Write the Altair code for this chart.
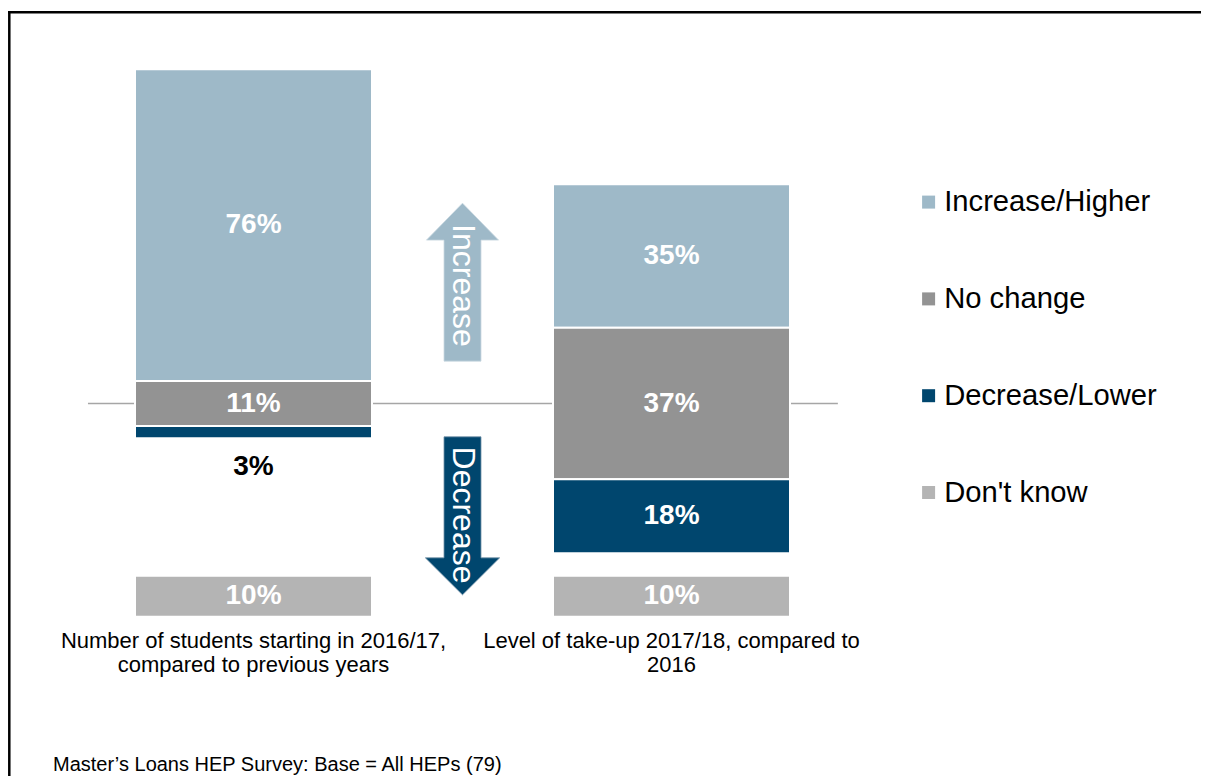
import altair as alt
import pandas as pd

# ---------------- data ----------------
questions = [
    "Number of students starting in 2016/17,\ncompared to previous years",
    "Level of take-up 2017/18, compared to\n2016",
]
categories = ["Increase/Higher", "No change", "Decrease/Lower", "Don't know"]
increase = [76, 35]
no_change = [11, 37]
decrease = [3, 18]
dont_know = [10, 10]
arrow_labels = ["Increase", "Decrease"]
footnote = "Master\u2019s Loans HEP Survey: Base = All HEPs (79)"

# ---------------- style / layout ----------------
colors = ["#9EB9C8", "#939393", "#00466E", "#B4B4B4"]
FONT = "Liberation Sans"
W, H = 1193, 768
Y0, K = 395.5, 4.1          # baseline pixel row, pixels per percentage point
X0, U = 245.5, 418          # first bar centre pixel, pixels per bar step
BAR_HALF = 0.2835
DK_TOP = -42                # where the separate "Don't know" bar starts
SMALL = 5
OUT_OFFSET = 7

xscale = alt.Scale(domain=[-X0 / U, (W - X0) / U], nice=False, zero=False)
yscale = alt.Scale(domain=[(Y0 - H) / K, Y0 / K], nice=False, zero=False)

rows = []
for i in range(len(questions)):
    nc = no_change[i]
    segs = [
        (categories[0], nc / 2, nc / 2 + increase[i], increase[i]),
        (categories[1], -nc / 2, nc / 2, nc),
        (categories[2], -nc / 2 - decrease[i], -nc / 2, decrease[i]),
        (categories[3], DK_TOP - dont_know[i], DK_TOP, dont_know[i]),
    ]
    for cat, lo, hi, v in segs:
        inside = v >= SMALL
        rows.append(dict(
            q=i, cat=cat, lo=lo, hi=hi, x=i - BAR_HALF, x2=i + BAR_HALF,
            label=f"{v}%", ly=(lo + hi) / 2 if inside else lo - OUT_OFFSET,
            inside=inside,
        ))
bars_df = pd.DataFrame(rows)

bars = alt.Chart(bars_df).mark_rect(stroke="white", strokeWidth=2).encode(
    x=alt.X("x:Q", scale=xscale, axis=None),
    x2="x2:Q",
    y=alt.Y("lo:Q", scale=yscale, axis=None),
    y2="hi:Q",
    color=alt.Color(
        "cat:N",
        scale=alt.Scale(domain=categories, range=colors),
        legend=alt.Legend(
            title=None, orient="none", legendX=906, legendY=179.5,
            symbolType="square", symbolSize=169, symbolStrokeWidth=0,
            symbolOpacity=1, labelFontSize=29.2, labelFont=FONT,
            labelColor="black", labelOffset=1, rowPadding=66.8, padding=0,
            labelLimit=400,
        ),
    ),
)

labels = alt.Chart(bars_df).mark_text(
    font=FONT, fontSize=28, fontWeight="bold", align="center", baseline="middle"
).encode(
    x=alt.X("q:Q", scale=xscale, axis=None),
    y=alt.Y("ly:Q", scale=yscale, axis=None),
    text="label:N",
    color=alt.condition("datum.inside", alt.value("white"), alt.value("black")),
)

base_df = pd.DataFrame({"x": [-0.396], "x2": [1.398], "y": [0]})
baseline = alt.Chart(base_df).mark_rule(color="#A6A6A6", strokeWidth=1.5).encode(
    x=alt.X("x:Q", scale=xscale, axis=None), x2="x2:Q",
    y=alt.Y("y:Q", scale=yscale, axis=None),
)

UP = "M0,-1L0.456,-0.532L0.234,-0.532L0.234,1L-0.234,1L-0.234,-0.532L-0.456,-0.532Z"
DOWN = "M-0.234,-1L0.234,-1L0.234,0.532L0.47,0.532L0,1L-0.47,0.532L-0.234,0.532Z"
arrow_df = pd.DataFrame({"x": [0.5, 0.5], "y": [29.6, -27.4],
                         "ty": [28.8, -27.2], "t": arrow_labels})
up = alt.Chart(arrow_df.iloc[[0]]).mark_point(
    shape=UP, filled=True, size=24964, color=colors[0], opacity=1,
    stroke="#C9D8E1", strokeWidth=0.8
).encode(x=alt.X("x:Q", scale=xscale, axis=None), y=alt.Y("y:Q", scale=yscale, axis=None))
down = alt.Chart(arrow_df.iloc[[1]]).mark_point(
    shape=DOWN, filled=True, size=24964, color=colors[2], opacity=1,
    stroke="#6F8FA6", strokeWidth=0.8
).encode(x=alt.X("x:Q", scale=xscale, axis=None), y=alt.Y("y:Q", scale=yscale, axis=None))
arrow_text = alt.Chart(arrow_df).mark_text(
    font=FONT, fontSize=32, color="white", angle=90, align="center", baseline="middle"
).encode(
    x=alt.X("x:Q", scale=xscale, axis=None),
    y=alt.Y("ty:Q", scale=yscale, axis=None),
    text="t:N",
)

q_df = pd.DataFrame({"q": list(range(len(questions))), "t": questions})
q_text = alt.Chart(q_df).mark_text(
    font=FONT, fontSize=22, color="black", align="center", baseline="top",
    lineBreak="\n", lineHeight=23.5
).encode(
    x=alt.X("q:Q", scale=xscale, axis=None),
    y=alt.value(623),
    text="t:N",
)

note = alt.Chart(pd.DataFrame({"t": [footnote]})).mark_text(
    font=FONT, fontSize=20, color="black", align="left", baseline="middle"
).encode(x=alt.value(45), y=alt.value(757), text="t:N")

one = pd.DataFrame({"a": [0]})
frame_top = alt.Chart(one).mark_rule(color="black", strokeWidth=2.5).encode(
    x=alt.value(0), x2=alt.value(W), y=alt.value(4.2))
frame_left = alt.Chart(one).mark_rule(color="black", strokeWidth=2.5).encode(
    x=alt.value(1.3), y=alt.value(3), y2=alt.value(H))

chart = alt.layer(
    baseline, bars, labels, up, down, arrow_text, q_text, note, frame_top, frame_left
).properties(
    width=W, height=H, autosize=alt.AutoSizeParams(type="none"), padding=0
).configure_view(stroke=None)

chart.save("out.html", embed_options={"renderer": "svg", "actions": False})
